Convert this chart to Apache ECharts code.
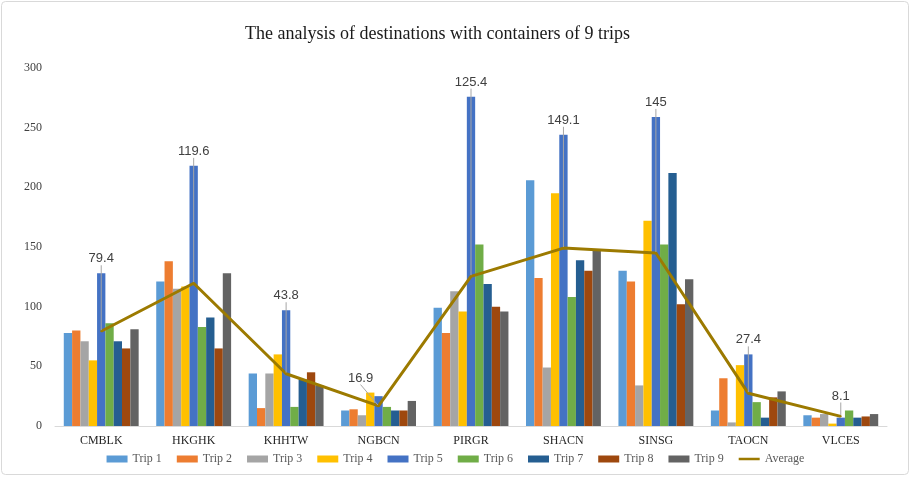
<!DOCTYPE html>
<html>
<head>
<meta charset="utf-8">
<style>
  html, body { margin: 0; padding: 0; background: #fff; }
  #chart { width: 911px; height: 477px; }
</style>
<script src="https://cdn.jsdelivr.net/npm/echarts@6/dist/echarts.min.js"></script>
</head>
<body>
<div id="chart"></div>
<script>
// Destinations (port codes)
const categories = ['CMBLK', 'HKGHK', 'KHHTW', 'NGBCN', 'PIRGR', 'SHACN', 'SINSG', 'TAOCN', 'VLCES'];

// Containers per destination for each trip
const trip1 = [78, 121, 44, 13, 99, 206, 130, 13, 9];
const trip2 = [80, 138, 15, 14, 78, 124, 121, 40, 7];
const trip3 = [71, 115, 44, 9, 113, 49, 34, 3, 10];
const trip4 = [55, 117, 60, 28, 96, 195, 172, 51, 2];
const trip5 = [128, 218, 97, 25, 276, 244, 259, 60, 7];
const trip6 = [86, 83, 16, 16, 152, 108, 152, 20, 13];
const trip7 = [71, 91, 39, 13, 119, 139, 212, 7, 7];
const trip8 = [65, 65, 45, 13, 100, 130, 102, 24, 8];
const trip9 = [81, 128, 34, 21, 96, 147, 123, 29, 10];

// Average containers over the 9 trips
const average = [79.4, 119.6, 43.8, 16.9, 125.4, 149.1, 145, 27.4, 8.1];

// Value axis ticks
const yMin = 0, yMax = 300, yStep = 50;

const trips = [trip1, trip2, trip3, trip4, trip5, trip6, trip7, trip8, trip9];
const tripNames = trips.map((_, i) => 'Trip ' + (i + 1));
const tripColors = ['#5B9BD5', '#ED7D31', '#A5A5A5', '#FFC000', '#4472C4',
                    '#70AD47', '#255E91', '#9E480E', '#636363'];
const avgColor = '#9C7A00';

const serif = '"Liberation Serif", "DejaVu Serif", serif';
const sans = '"Liberation Sans", "Open Sans", sans-serif';

// thick horizontal stroke for the line legend key (dots keep the full icon box)
const lineKeyIcon = 'path://M0,0L0.01,0M0,2.3L22,2.3L22,4.7L0,4.7ZM0,7L0.01,7';

const chart = echarts.init(document.getElementById('chart'), null, { renderer: 'canvas' });

const barSeries = trips.map((vals, i) => ({
  name: tripNames[i],
  type: 'bar',
  data: vals,
  barGap: '0%',
  barCategoryGap: '19%',
  itemStyle: { color: tripColors[i] }
}));

const averageSeries = {
  name: 'Average',
  type: 'line',
  data: average,
  symbol: 'circle',
  symbolSize: 2,
  showSymbol: true,
  z: 5,
  lineStyle: { color: avgColor, width: 3 },
  itemStyle: { color: avgColor },
  label: {
    show: true,
    position: 'top',
    distance: 4,
    fontFamily: sans,
    fontSize: 13,
    color: '#404040'
  },
  labelLine: {
    show: true,
    lineStyle: { color: '#A6A6A6', width: 1 }
  },
  // lift each average label just above the tallest bar of its group
  labelLayout: function (params) {
    const i = params.dataIndex;
    const topVal = Math.max.apply(null, trips.map(t => t[i]));
    const topPx = chart.convertToPixel({ yAxisIndex: 0 }, topVal);
    const r = params.labelRect;
    const out = { dy: (topPx - 8) - (r.y + r.height) };
    if (categories[i] === 'NGBCN') out.dx = -18;
    return out;
  }
};

chart.setOption({
  animation: false,
  backgroundColor: '#ffffff',
  title: {
    text: 'The analysis of destinations with containers of 9 trips',
    left: 240,
    top: 20,
    textStyle: { fontFamily: serif, fontSize: 18, fontWeight: 'normal', color: '#1a1a1a' }
  },
  graphic: [{
    type: 'rect',
    shape: { x: 1.5, y: 1.5, width: 907, height: 473, r: 4 },
    style: { fill: 'none', stroke: '#D9D9D9', lineWidth: 1 },
    silent: true,
    z: -1
  }],
  legend: {
    bottom: 7,
    left: 'center',
    itemWidth: 21,
    itemHeight: 7,
    itemGap: 15,
    textStyle: { fontFamily: serif, fontSize: 12, color: '#595959' },
    data: tripNames.map(n => ({ name: n, icon: 'rect' }))
      .concat([{ name: 'Average', icon: lineKeyIcon, itemStyle: { color: avgColor } }])
  },
  grid: { left: 55, right: 24, top: 68, bottom: 51, containLabel: false },
  xAxis: {
    type: 'category',
    data: categories,
    axisLine: { lineStyle: { color: '#D9D9D9' } },
    axisTick: { show: false },
    axisLabel: { fontFamily: serif, fontSize: 12, color: '#262626', margin: 9 }
  },
  yAxis: {
    type: 'value',
    min: yMin,
    max: yMax,
    interval: yStep,
    axisLine: { show: false },
    axisTick: { show: false },
    splitLine: { show: false },
    axisLabel: { fontFamily: serif, fontSize: 12, color: '#404040', margin: 13 }
  },
  series: barSeries.concat([averageSeries])
});
</script>
</body>
</html>
